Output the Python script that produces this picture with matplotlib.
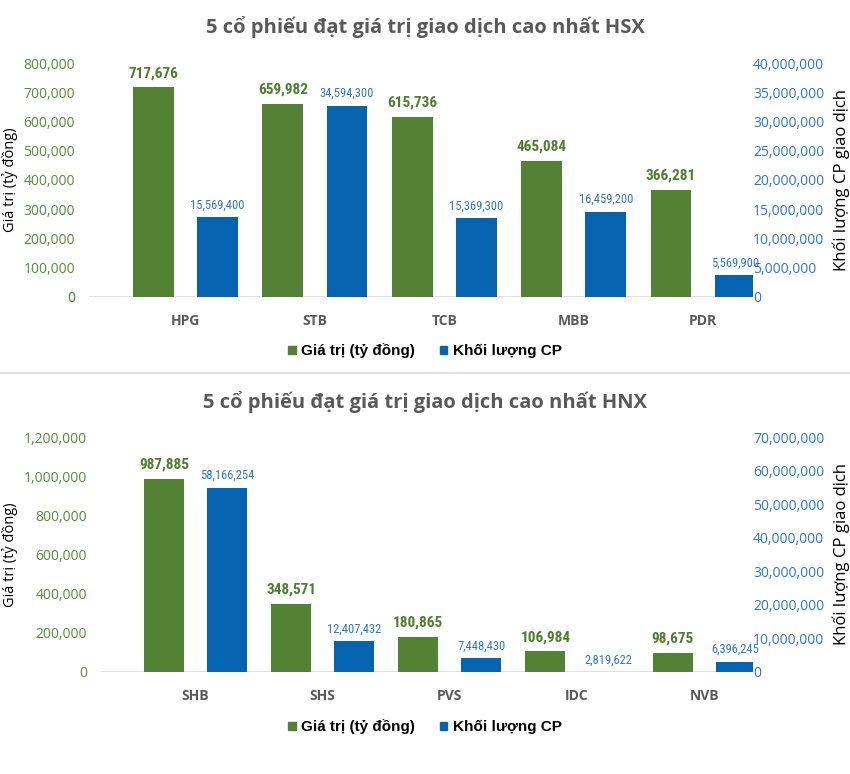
import matplotlib
matplotlib.use("Agg")
import matplotlib.pyplot as plt
import matplotlib.ticker as mticker
from matplotlib.patches import Patch
from matplotlib import font_manager
import numpy as np

# ---- data ----
hsx_tickers = ["HPG", "STB", "TCB", "MBB", "PDR"]
hsx_value = [717676, 659982, 615736, 465084, 366281]          # ty dong
hsx_volume = [15569400, 34594300, 15369300, 16459200, 5569900]  # CP

hnx_tickers = ["SHB", "SHS", "PVS", "IDC", "NVB"]
hnx_value = [987885, 348571, 180865, 106984, 98675]
hnx_volume = [58166254, 12407432, 7448430, 2819622, 6396245]

# ---- styles ----
GREEN = "#548235"
BLUE = "#0563AF"
GREEN_TXT = "#5A8A3A"
BLUE_TXT = "#2E75C6"
GRAY = "#595959"

installed = {f.name for f in font_manager.fontManager.ttflist}
narrow_pick = [n for n in ["Liberation Sans Narrow", "Arial Narrow", "Roboto Condensed",
                           "DejaVu Sans Condensed", "Open Sans Condensed"] if n in installed]
NARROW = narrow_pick[:1] + ["DejaVu Sans"]
HAVE_NARROW = bool(narrow_pick)

plt.rcParams["font.family"] = ["Open Sans", "DejaVu Sans"]

fig = plt.figure(figsize=(8.5, 7.74), dpi=100)

fmt = mticker.FuncFormatter(lambda v, p: f"{int(v):,}")


def draw_panel(rect, title, tickers, values, volumes, vmax, vstep, volmax, volstep,
               vol_floor, title_y, legend_y):
    ax = fig.add_axes(rect)
    ax2 = ax.twinx()              # right axis with the volume ticks
    axb = ax.twinx()              # volume bars (the original chart sits them a bit lower)
    axb.set_axis_off()
    x = np.arange(len(tickers))
    w = 0.315
    off = 0.248

    ax.bar(x - off, values, width=w, color=GREEN, zorder=3)
    axb.bar(x + off, volumes, width=w, color=BLUE, zorder=3)

    ax.set_xlim(-0.745, 4.385)
    ax.set_ylim(0, vmax)
    ax2.set_ylim(0, volmax)
    axb.set_ylim(vol_floor, vol_floor + volmax)
    ax.set_yticks(np.arange(0, vmax + 1, vstep))
    ax2.set_yticks(np.arange(0, volmax + 1, volstep))
    ax.yaxis.set_major_formatter(fmt)
    ax2.yaxis.set_major_formatter(fmt)

    gsize = 11 if HAVE_NARROW else 9.5
    bsize = 9 if HAVE_NARROW else 7.6
    # value labels on the bars
    for xi, v in zip(x, values):
        ax.annotate(f"{v:,}", (xi - off, v), xytext=(0, 5), textcoords="offset points",
                    ha="center", va="bottom", color="#4E7D2E", fontsize=gsize,
                    fontweight="bold", family=NARROW)
    for xi, v in zip(x, volumes):
        axb.annotate(f"{v:,}", (xi + off, max(v, vol_floor)), xytext=(0, 4),
                     textcoords="offset points", ha="center", va="bottom",
                     color=BLUE_TXT, fontsize=bsize, family=NARROW, annotation_clip=False)

    # axes look
    for a in (ax, ax2):
        for s in a.spines.values():
            s.set_visible(False)
    ax.axhline(0, color="#D9D9D9", lw=1.2, zorder=2)
    ax.tick_params(axis="y", length=0, pad=10, labelsize=10, labelcolor=GREEN_TXT)
    ax2.tick_params(axis="y", length=0, pad=0, labelsize=10, labelcolor=BLUE_TXT)
    ax.set_xticks(x)
    ax.set_xticklabels(tickers, fontsize=10, fontweight="bold", color=GRAY)
    ax.tick_params(axis="x", length=0, pad=12)

    ax.set_ylabel("Giá trị (tỷ đồng)", fontsize=10.5, color="black", labelpad=4)
    ax2.set_ylabel("Khối lượng CP giao dịch", fontsize=12, color="black", labelpad=6)

    fig.text(0.5, title_y, title, ha="center", va="center", fontsize=14.5,
             fontweight="bold", color=GRAY)

    handles = [Patch(color=GREEN, label="Giá trị (tỷ đồng)"),
               Patch(color=BLUE, label="Khối lượng CP")]
    fig.legend(handles=handles, loc="center", bbox_to_anchor=(0.5, legend_y), ncol=2,
               frameon=False, handlelength=0.5, handleheight=0.5, handletextpad=0.35,
               columnspacing=1.6, prop={"family": ["Liberation Sans", "DejaVu Sans"],
                                        "weight": "bold", "size": 11})
    return ax, ax2


draw_panel([0.1047, 0.6163, 0.7812, 0.3023],
           "5 cổ phiếu đạt giá trị giao dịch cao nhất HSX",
           hsx_tickers, hsx_value, hsx_volume,
           800000, 100000, 40000000, 5000000, 1870000,
           1 - 27 / 774, 1 - 351 / 774)

draw_panel([0.1188, 0.1318, 0.7671, 0.3036],
           "5 cổ phiếu đạt giá trị giao dịch cao nhất HNX",
           hnx_tickers, hnx_value, hnx_volume,
           1200000, 200000, 70000000, 10000000, 3280000,
           1 - 402 / 774, 1 - 727 / 774)

# separator between the two charts
fig.add_artist(plt.Line2D([0, 1], [1 - 373 / 774, 1 - 373 / 774], color="#E0E0E0", lw=1.5))

fig.savefig("out.png", dpi=100, facecolor="white")
